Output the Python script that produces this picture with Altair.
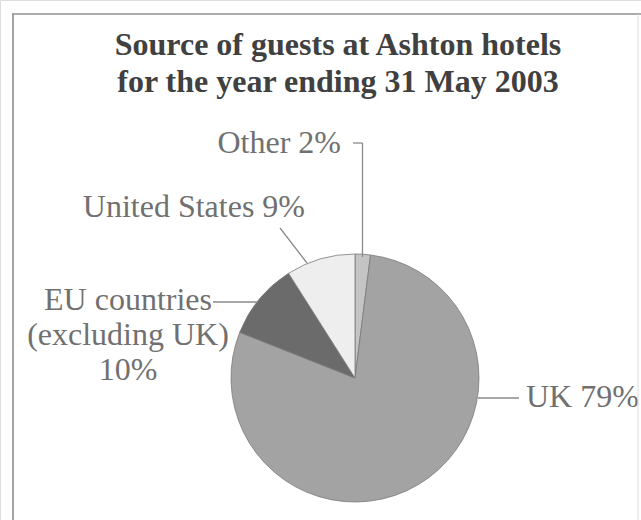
import altair as alt
import pandas as pd

# ---- data ----
categories = ["Other", "UK", "EU countries (excluding UK)", "United States"]
shares = [2, 79, 10, 9]
colors = ["#c4c4c4", "#a3a3a3", "#6b6b6b", "#eeeeee"]
title_lines = ["Source of guests at Ashton hotels", "for the year ending 31 May 2003"]
label_lines = [
    ["Other 2%"],
    ["UK 79%"],
    ["EU countries", "(excluding UK)", "10%"],
    ["United States 9%"],
]

# ---- layout (pixels) ----
W, H = 641, 520
CX, CY, R = 355, 378, 124
label_anchor = {  # x, first baseline, align
    "Other": (341, 153, "right"),
    "UK": (526, 407, "left"),
    "EU countries (excluding UK)": (128, 310, "center"),
    "United States": (305, 217, "right"),
}
line_step = 35
leaders = [
    (353, 143, 362.5, 143), (362.5, 143, 362.5, 257),
    (280, 228, 307, 263),
    (213, 302, 258, 302),
    (478, 398, 519, 398),
]

pie_df = pd.DataFrame({"cat": categories, "share": shares, "order": range(len(categories))})

rows = []
for cat, lines in zip(categories, label_lines):
    x, y, a = label_anchor[cat]
    for i, t in enumerate(lines):
        rows.append({"t": t, "px": x, "py": y + i * line_step, "al": a})
lab_df = pd.DataFrame(rows)

base = alt.Chart(pie_df)

pie = base.mark_arc(radius=R, stroke="#7a7a7a", strokeWidth=0.8).encode(
    theta=alt.Theta("share:Q", stack=True),
    order=alt.Order("order:Q"),
    color=alt.Color("cat:N", scale=alt.Scale(domain=categories, range=colors), legend=None),
    x=alt.value(CX),
    y=alt.value(CY),
)

noscale = alt.Scale(domain=[0, W], range=[0, W])
noscale_y = alt.Scale(domain=[0, H], range=[0, H])

layers = [pie]
for al in ["left", "right", "center"]:
    sub = lab_df[lab_df["al"] == al]
    if len(sub) == 0:
        continue
    layers.append(
        alt.Chart(sub).mark_text(
            font="Liberation Serif", fontSize=32, color="#707070", align=al, baseline="alphabetic"
        ).encode(
            x=alt.X("px:Q", scale=noscale, axis=None),
            y=alt.Y("py:Q", scale=noscale_y, axis=None),
            text="t:N",
        )
    )

lead_df = pd.DataFrame(leaders, columns=["x1", "y1", "x2", "y2"])
layers.append(
    alt.Chart(lead_df).mark_rule(color="#8a8a8a", strokeWidth=1.3).encode(
        x=alt.X("x1:Q", scale=noscale, axis=None),
        y=alt.Y("y1:Q", scale=noscale_y, axis=None),
        x2="x2:Q",
        y2="y2:Q",
    )
)

title_df = pd.DataFrame({"t": title_lines, "px": [338, 338], "py": [55, 92]})
layers.append(
    alt.Chart(title_df).mark_text(
        font="Liberation Serif", fontSize=32, fontWeight="bold", color="#404040", align="center", baseline="alphabetic"
    ).encode(
        x=alt.X("px:Q", scale=noscale, axis=None),
        y=alt.Y("py:Q", scale=noscale_y, axis=None),
        text="t:N",
    )
)

# frame
frame_df = pd.DataFrame([
    {"x1": 12, "y1": 14, "x2": 641, "y2": 14},
    {"x1": 13, "y1": 14, "x2": 13, "y2": 520},
])
layers.append(
    alt.Chart(frame_df).mark_rule(color="#8f8f8f", strokeWidth=1.6).encode(
        x=alt.X("x1:Q", scale=noscale, axis=None),
        y=alt.Y("y1:Q", scale=noscale_y, axis=None),
        x2="x2:Q",
        y2="y2:Q",
    )
)
right_df = pd.DataFrame([{"x1": 638, "y1": 14, "x2": 638, "y2": 520}])
layers.append(
    alt.Chart(right_df).mark_rule(color="#dddddd", strokeWidth=1).encode(
        x=alt.X("x1:Q", scale=noscale, axis=None),
        y=alt.Y("y1:Q", scale=noscale_y, axis=None),
        x2="x2:Q",
        y2="y2:Q",
    )
)

chart = alt.layer(*layers).resolve_scale(color="independent").properties(
    width=W, height=H, padding=0, autosize=alt.AutoSizeParams(type="none")
).configure_view(stroke=None).configure(background="white")

chart.save("out.html", embed_options={"renderer": "svg", "actions": False})
